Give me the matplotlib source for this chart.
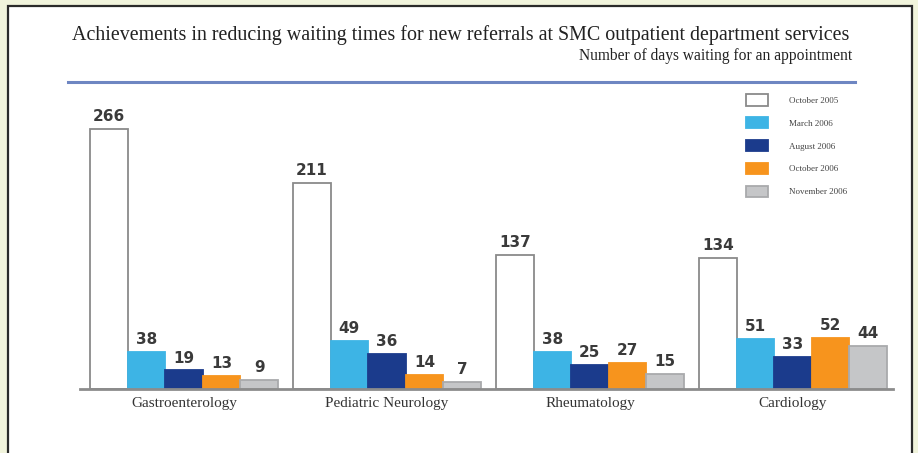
import matplotlib.pyplot as plt
import matplotlib.patches as mpatches
import numpy as np

# %% Data
departments = ["Gastroenterology", "Pediatric Neurology", "Rheumatology", "Cardiology"]
periods = ["October 2005", "March 2006", "August 2006", "October 2006", "November 2006"]
oct_2005 = [266, 211, 137, 134]
mar_2006 = [38, 49, 38, 51]
aug_2006 = [19, 36, 25, 33]
oct_2006 = [13, 14, 27, 52]
nov_2006 = [9, 7, 15, 44]

series = [oct_2005, mar_2006, aug_2006, oct_2006, nov_2006]
fills = ["#ffffff", "#3db4e5", "#1b3b8c", "#f7941d", "#c5c6c8"]
edges = ["#8a8a8a", "#3db4e5", "#1b3b8c", "#f7941d", "#a9aaac"]

# %% Figure
fig = plt.figure(figsize=(9.18, 4.53), dpi=100)
fig.patch.set_facecolor("#f1f4dc")
W, H = 918, 453

# white panel with dark border (behind everything)
panel = mpatches.Rectangle((8 / W, -0.1), 904 / W, 1.1 - 6 / H, transform=fig.transFigure,
                           facecolor="white", edgecolor="#2a2a2a", linewidth=1.6, zorder=-5)
fig.patches.append(panel)

serif = "Liberation Serif"
fig.text(72 / W, 1 - 40 / H, "Achievements in reducing waiting times for new referrals at SMC outpatient department services",
         fontsize=14.4, family=serif, color="#222222", ha="left", va="baseline")
fig.text(852 / W, 1 - 60 / H, "Number of days waiting for an appointment",
         fontsize=11.2, family=serif, color="#222222", ha="right", va="baseline")
fig.add_artist(plt.Line2D([68 / W, 855 / W], [1 - 82 / H, 1 - 82 / H], transform=fig.transFigure,
                          color="#6e86c2", linewidth=2.2))

# %% Bars
ax = fig.add_axes([80 / W, 64 / H, 813 / W, 290 / H])
ax.set_facecolor("none")
x = np.arange(len(departments))
bw = 37.6 / 203
for j, vals in enumerate(series):
    pos = x + (j - 2) * bw
    ax.bar(pos, vals, width=bw, color=fills[j], edgecolor=edges[j], linewidth=1.3,
           label=periods[j], zorder=2)
    for p, v in zip(pos, vals):
        ax.text(p, v + 5, str(v), ha="center", va="bottom", fontsize=11, fontweight="bold",
                family="DejaVu Sans", color="#3a3a3a")

ax.set_xlim(-0.512, 3.493)
ax.set_ylim(0, 290 / 0.977)
ax.set_xticks(x)
ax.set_xticklabels(departments, family=serif, fontsize=11, color="#333333")
ax.tick_params(axis="x", length=0, pad=6)
ax.set_yticks([])
for s in ["top", "right", "left"]:
    ax.spines[s].set_visible(False)
ax.spines["bottom"].set_color("#8c8c8c")
ax.spines["bottom"].set_linewidth(2)

leg = fig.legend(loc="upper left", bbox_to_anchor=(746 / W, 1 - 94 / H), frameon=False,
                 prop={"family": serif, "size": 6.5}, labelcolor="#444444",
                 handlelength=2.4, handleheight=1.6, handletextpad=2.4, labelspacing=1.25,
                 borderpad=0, borderaxespad=0)

fig.savefig("out.png", dpi=100, facecolor=fig.get_facecolor())
